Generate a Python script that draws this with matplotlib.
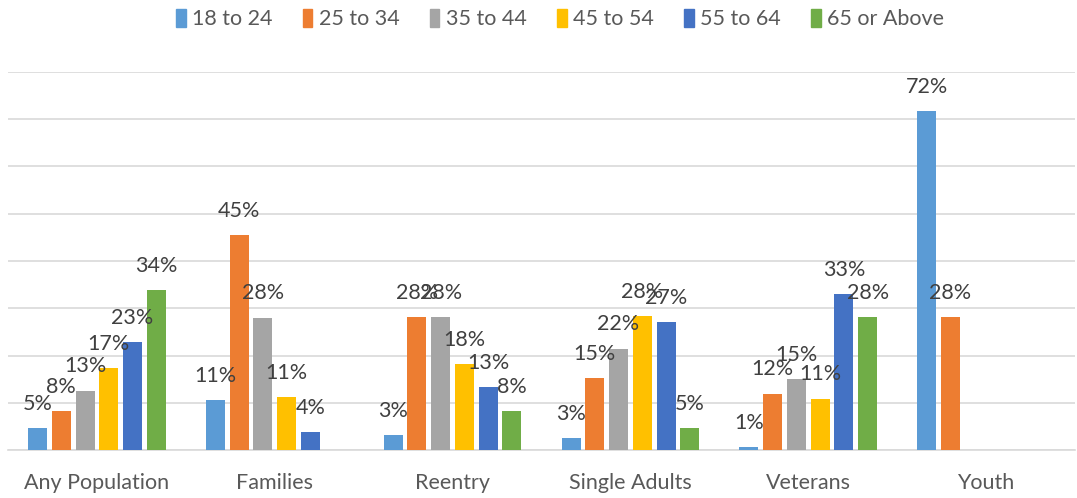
import numpy as np
import matplotlib.pyplot as plt
from matplotlib.patches import Patch

categories = ["Any Population", "Families", "Reentry", "Single Adults", "Veterans", "Youth"]
series_names = ["18 to 24", "25 to 34", "35 to 44", "45 to 54", "55 to 64", "65 or Above"]
colors = ["#5B9BD5", "#ED7D31", "#A5A5A5", "#FFC000", "#4472C4", "#70AD47"]

# percent per age band, one list per series (NaN = no bar)
age_18_24 = [4.7, 10.6, 3.2, 2.6, 0.6, 71.7]
age_25_34 = [8.3, 45.4, 28.2, 15.2, 12.0, 28.1]
age_35_44 = [12.6, 28.0, 28.2, 21.5, 15.0, np.nan]
age_45_54 = [17.3, 11.2, 18.2, 28.4, 10.9, np.nan]
age_55_64 = [22.8, 3.9, 13.3, 27.1, 33.0, np.nan]
age_65_up = [33.9, np.nan, 8.2, 4.7, 28.1, np.nan]
series = [age_18_24, age_25_34, age_35_44, age_45_54, age_55_64, age_65_up]

plt.rcParams['font.family'] = ['Lato', 'DejaVu Sans']

fig = plt.figure(figsize=(10.77, 4.98), dpi=100)
ax = fig.add_axes([8 / 1077, 1 - 450.3 / 498, 1067 / 1077, (450.3 - 71.7) / 498])

x = np.arange(len(categories))
pitch = 0.1335
width = 0.107
for i, (vals, col) in enumerate(zip(series, colors)):
    pos = x + (i - 2.5) * pitch
    ax.bar(pos, vals, width=width, color=col, zorder=3)
    for px, v in zip(pos, vals):
        if np.isnan(v):
            continue
        ax.annotate(f"{round(v)}%", (px, v), xytext=(0, 17.5), textcoords="offset points",
                    ha="center", va="center", fontsize=15.5, color="#404040", zorder=4)

ax.set_xlim(-0.5, len(categories) - 0.5)
ax.set_ylim(0, 80)
ax.set_yticks(np.arange(0, 81, 10))
ax.yaxis.grid(True, color="#D9D9D9", linewidth=1.2, zorder=0)
ax.tick_params(axis="y", left=False, labelleft=False)
ax.tick_params(axis="x", length=0, pad=16, labelsize=15.5, labelcolor="#595959")
ax.set_xticks(x)
ax.set_xticklabels(categories)
for s in ["top", "right", "left"]:
    ax.spines[s].set_visible(False)
ax.spines["bottom"].set_color("#D9D9D9")
ax.spines["bottom"].set_linewidth(1.2)

handles = [Patch(color=c, label=n) for c, n in zip(colors, series_names)]
fig.legend(handles=handles, loc="center", bbox_to_anchor=(0.52, 1 - 19 / 498), ncol=6,
           frameon=False, fontsize=15.5, labelcolor="#595959", handlelength=0.45,
           handleheight=0.9, handletextpad=0.3, columnspacing=1.4)

fig.savefig("out.png", dpi=100)
